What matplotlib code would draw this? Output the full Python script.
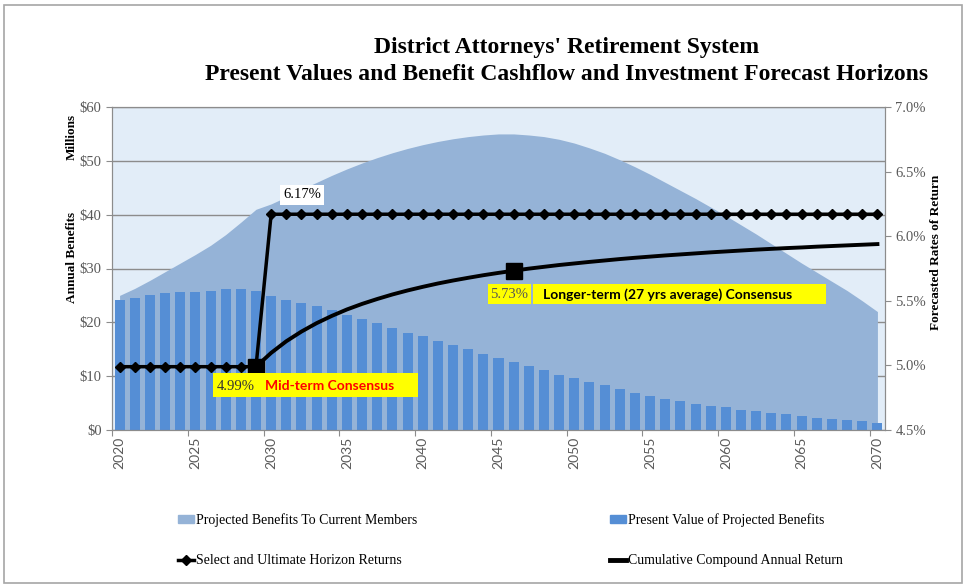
import matplotlib.pyplot as plt
import numpy as np
from matplotlib.lines import Line2D
from matplotlib.patches import Patch, Rectangle

years = list(range(2020, 2071))

# Projected benefits to current members ($ millions)
projected = [
    25.0, 26.3, 27.8, 29.4, 31.0, 32.6, 34.3, 36.3, 38.6, 41.0,
    42.0, 43.3, 44.7, 46.0, 47.3, 48.5, 49.6, 50.6, 51.5, 52.3,
    53.0, 53.6, 54.1, 54.5, 54.8, 55.0, 55.0, 54.8, 54.5, 54.0,
    53.3, 52.4, 51.4, 50.2, 48.9, 47.5, 46.0, 44.5, 43.0, 41.4,
    39.8, 38.1, 36.4, 34.6, 32.8, 31.0, 29.3, 27.6, 25.9, 24.0,
    22.0,
]

# Present value of projected benefits ($ millions)
present_value = [
    24.2, 24.6, 25.0, 25.5, 25.6, 25.6, 25.8, 26.1, 26.1, 25.9,
    24.8, 24.2, 23.6, 23.0, 22.2, 21.4, 20.6, 19.8, 18.9, 18.1,
    17.4, 16.5, 15.8, 15.0, 14.2, 13.4, 12.7, 11.9, 11.1, 10.3,
    9.6, 8.9, 8.3, 7.6, 6.95, 6.3, 5.8, 5.3, 4.9, 4.5,
    4.2, 3.8, 3.5, 3.2, 2.9, 2.6, 2.3, 2.0, 1.8, 1.6,
    1.3,
]

# Select and ultimate horizon returns (%)
select_ult = [4.99] * 10 + [6.17] * 41

# Cumulative compound annual return (%), 2029 onwards
cum_years = list(range(2029, 2071))
cumulative = [
    4.990, 5.097, 5.187, 5.262, 5.327, 5.383, 5.433, 5.476, 5.514, 5.549,
    5.580, 5.608, 5.634, 5.657, 5.678, 5.698, 5.716, 5.733, 5.749, 5.763,
    5.777, 5.789, 5.801, 5.812, 5.823, 5.833, 5.842, 5.851, 5.859, 5.867,
    5.875, 5.882, 5.889, 5.896, 5.902, 5.908, 5.913, 5.919, 5.924, 5.929,
    5.934, 5.939,
]
highlight_years = [2029, 2046]

W, H = 967, 588
SERIF = "Liberation Serif"


def px(x, y):
    return x / W, 1 - y / H


fig = plt.figure(figsize=(W / 100, H / 100), dpi=100)
fig.patches.append(Rectangle(px(4, 583), 958 / W, 578 / H, transform=fig.transFigure,
                             fill=False, edgecolor="#a6a6a6", linewidth=1.2))

ax = fig.add_axes([112 / W, 1 - 430 / H, (885 - 112) / W, (430 - 107) / H])
ax.set_facecolor("#e2edf8")

idx = np.arange(len(years))
ax.fill_between(idx, projected, 0, color="#95b3d7", linewidth=0, zorder=1)
ax.bar(idx, present_value, width=0.66, color="#558ed5", zorder=2)

ax.set_xlim(-0.5, len(years) - 0.5)
ax.set_ylim(0, 60)
ax.set_yticks(range(0, 61, 10))
ax.set_yticklabels([f"${v}" for v in range(0, 61, 10)], fontfamily=SERIF,
                   fontsize=10.5, color="#595959")
ax.set_axisbelow(True)
ax.yaxis.grid(True, color="#8c8c8c", linewidth=1)
ax.tick_params(axis="y", length=4, color="#8c8c8c")

ax.set_xticks(np.arange(-0.5, len(years) - 1, 5))
ax.set_xticklabels([])
ax.tick_params(axis="x", which="major", length=4, color="#8c8c8c")
lab_idx = [i for i, y in enumerate(years) if y % 5 == 0]
ax.set_xticks(lab_idx, [str(years[i]) for i in lab_idx], minor=True,
              fontfamily="Lato")
ax.tick_params(axis="x", which="minor", length=0, pad=5, labelrotation=90,
               labelsize=10, labelcolor="#595959")
for s in ax.spines.values():
    s.set_color("#8c8c8c")

ax2 = ax.twinx()
ax2.set_ylim(4.5, 7.0)
ax2.set_yticks(np.arange(4.5, 7.01, 0.5))
ax2.set_yticklabels([f"{v:.1f}%" for v in np.arange(4.5, 7.01, 0.5)],
                    fontfamily=SERIF, fontsize=10.5, color="#595959")
ax2.tick_params(axis="y", length=4, color="#8c8c8c")
for s in ax2.spines.values():
    s.set_color("#8c8c8c")

ax2.plot(idx, select_ult, color="black", linewidth=2.5, marker="D",
         markersize=5.5, zorder=3)
cum_idx = [years.index(y) for y in cum_years]
ax2.plot(cum_idx, cumulative, color="black", linewidth=2.8, zorder=3)
hl_idx = [years.index(y) for y in highlight_years]
hl_val = [cumulative[cum_years.index(y)] for y in highlight_years]
ax2.plot(hl_idx, hl_val, linestyle="none", marker="s", markersize=11,
         color="black", zorder=4)

# annotation boxes
fig.text(*px(302, 195), "6.17%", fontfamily=SERIF, fontsize=10.5, ha="center",
         va="center", bbox=dict(facecolor="white", edgecolor="none", pad=2.5))

fig.patches.append(Rectangle(px(213, 397), 205 / W, 24 / H, transform=fig.transFigure,
                             facecolor="#ffff00", edgecolor="none", zorder=5))
fig.text(*px(217, 386), "4.99%", fontfamily=SERIF, fontsize=10.5, va="center",
         color="#333333", zorder=6)
fig.text(*px(265, 386), "Mid-term Consensus", fontfamily="Lato", fontweight="bold",
         fontsize=10, va="center", color="#ff0000", zorder=6)

fig.patches.append(Rectangle(px(488, 304), 43 / W, 20 / H, transform=fig.transFigure,
                             facecolor="#ffff00", edgecolor="none", zorder=5))
fig.text(*px(509.5, 295), "5.73%", fontfamily=SERIF, fontsize=10.5, ha="center",
         va="center", color="#555555", zorder=6)
fig.patches.append(Rectangle(px(533, 304), 293 / W, 20 / H, transform=fig.transFigure,
                             facecolor="#ffff00", edgecolor="none", zorder=5))
fig.text(*px(543, 295), "Longer-term (27 yrs average) Consensus", fontfamily="Lato",
         fontweight="bold", fontsize=10, va="center", color="black", zorder=6)

# titles and axis labels
fig.text(*px(567, 47), "District Attorneys' Retirement System", fontfamily=SERIF,
         fontweight="bold", fontsize=17, ha="center", va="center")
fig.text(*px(567, 75), "Present Values and Benefit Cashflow and Investment Forecast Horizons",
         fontfamily=SERIF, fontweight="bold", fontsize=17, ha="center", va="center")
fig.text(*px(72, 137), "Millions", fontfamily=SERIF, fontweight="bold", fontsize=9.5,
         rotation=90, ha="center", va="center")
fig.text(*px(72, 257), "Annual Benefits", fontfamily=SERIF, fontweight="bold",
         fontsize=9.5, rotation=90, ha="center", va="center")
fig.text(*px(936, 252), "Forecasted Rates of Return", fontfamily=SERIF,
         fontweight="bold", fontsize=9.5, rotation=90, ha="center", va="center")

# legend
h_area = Patch(color="#95b3d7")
h_bar = Patch(color="#558ed5")
h_sel = Line2D([], [], color="black", linewidth=2.5, marker="D", markersize=5)
h_cum = Line2D([], [], color="black", linewidth=3.5)
leg_kw = dict(frameon=False, loc="upper left", labelspacing=1.95, handlelength=1.2,
              handleheight=0.5, handletextpad=0.1, borderaxespad=0,
              prop=dict(family=SERIF, size=10))
fig.legend([h_area, h_sel], ["Projected Benefits To Current Members",
                             "Select and Ultimate Horizon Returns"],
           bbox_to_anchor=px(172, 508), **leg_kw)
fig.legend([h_bar, h_cum], ["Present Value of Projected Benefits",
                            "Cumulative Compound Annual Return"],
           bbox_to_anchor=px(604, 508), **leg_kw)

fig.savefig("out.png", dpi=100)
